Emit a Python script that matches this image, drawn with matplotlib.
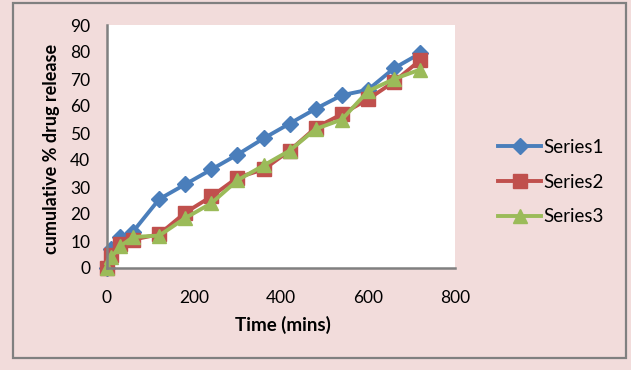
import matplotlib
matplotlib.use("Agg")
import matplotlib.pyplot as plt
from matplotlib.patches import Rectangle

times = [0, 10, 30, 60, 120, 180, 240, 300, 360, 420, 480, 540, 600, 660, 720]
series1 = [0, 7, 11.5, 13.5, 25.5, 31, 36.5, 42, 48, 53.5, 59, 64, 66, 74, 79.5]
series2 = [0, 5, 9, 10.5, 12.5, 20.5, 26.5, 33.5, 36.5, 43.5, 52, 57, 62.5, 69, 77]
series3 = [0, 4, 8, 11.5, 12, 18.5, 24, 32.5, 38, 43.5, 51.5, 55, 65.5, 70, 73.5]
names = ["Series1", "Series2", "Series3"]
xticks = [0, 200, 400, 600, 800]
yticks = [0, 10, 20, 30, 40, 50, 60, 70, 80, 90]

plt.rcParams['font.family'] = ['Lato', 'DejaVu Sans']

W, H = 631, 370
fig = plt.figure(figsize=(W / 100, H / 100), dpi=100)
fig.patch.set_facecolor('#F2DCDB')
fig.patches.append(Rectangle((13 / W, (H - 358) / H), (626 - 13) / W, (358 - 3) / H,
                             transform=fig.transFigure, fill=False,
                             edgecolor='#808080', linewidth=1.6))

ax = fig.add_axes([107 / W, (H - 268) / H, (455 - 107) / W, (268 - 25) / H])
ax.set_facecolor('white')

styles = [('#4A7EBB', 'D', 8), ('#C0504D', 's', 10), ('#9BBB59', '^', 10.5)]
for data, name, (c, m, ms) in zip([series1, series2, series3], names, styles):
    ax.plot(times, data, color=c, marker=m, markersize=ms, linewidth=2.8,
            label=name, clip_on=False)

ax.set_xlim(0, 800)
ax.set_ylim(0, 90)
ax.set_xticks(xticks)
ax.set_yticks(yticks)
for s in ['top', 'right']:
    ax.spines[s].set_visible(False)
for s in ['left', 'bottom']:
    ax.spines[s].set_color('#808080')
    ax.spines[s].set_linewidth(1.8)
ax.tick_params(axis='both', length=0, labelsize=12.5, colors='black')
ax.tick_params(axis='y', pad=12)
ax.tick_params(axis='x', pad=16)

fig.text(52 / W, (H - 149) / H, 'cumulative % drug release', rotation=90,
         ha='center', va='center', fontsize=13, fontweight='bold')
fig.text(283 / W, (H - 325) / H, 'Time (mins)', ha='center', va='center',
         fontsize=13.5, fontweight='bold')

fig.legend(loc='center left', bbox_to_anchor=(498 / W, (H - 182) / H),
           frameon=False, fontsize=13.5, handlelength=2.3, handletextpad=0.1,
           labelspacing=0.95, borderpad=0, borderaxespad=0)

fig.savefig('out.png', dpi=100, facecolor=fig.get_facecolor())
